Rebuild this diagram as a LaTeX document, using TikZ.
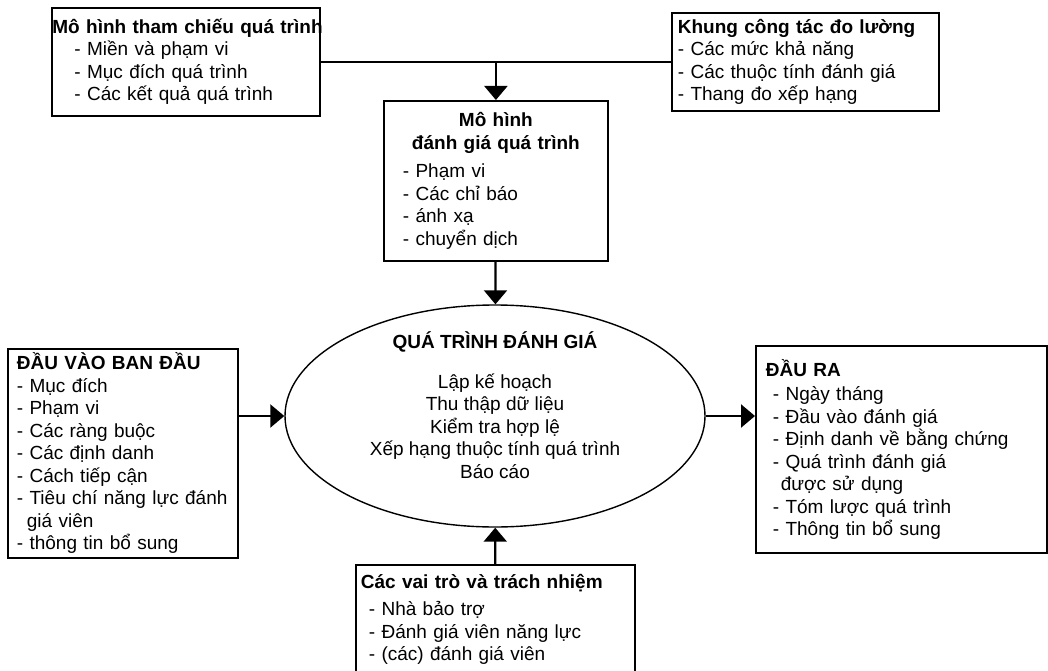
\documentclass[tikz,border=0pt]{standalone}
\usepackage{fontspec}
\setmainfont{Liberation Sans}
\usetikzlibrary{arrows.meta,shapes.geometric}

\tikzset{
  box/.style={draw, line width=1.8pt, anchor=north west, align=left, inner ysep=2pt},
  arr/.style={line width=2.2pt, -{Triangle[length=14pt,width=23pt]}},
}

\begin{document}
\begin{tikzpicture}[x=1pt, y=-1pt, font=\fontsize{19}{22.5}\selectfont]
\useasboundingbox (0,0) rectangle (1048,671);

% upper row
\node[box, inner xsep=0.5pt, text width=267pt, minimum height=108pt] (refmodel) at (51,7)
  {\mbox{\textbf{Mô hình tham chiếu quá trình}}\\
   \hspace*{22pt}- Miền và phạm vi\\
   \hspace*{22pt}- Mục đích quá trình\\
   \hspace*{22pt}- Các kết quả quá trình};
\node[box, inner xsep=6pt, text width=255pt, minimum height=98pt] (framework) at (671,12)
  {\textbf{Khung công tác đo lường}\\
   - Các mức khả năng\\
   - Các thuộc tính đánh giá\\
   - Thang đo xếp hạng};
\node[box, inner xsep=8pt, text width=208pt, minimum height=160pt] (asmodel) at (383,100)
  {\hfill\textbf{Mô hình}\hfill\null\\
   \hfill\textbf{đánh giá quá trình}\hfill\null\\[6pt]
   \hspace*{11pt}- Phạm vi\\
   \hspace*{11pt}- Các chỉ báo\\
   \hspace*{11pt}- ánh xạ\\
   \hspace*{11pt}- chuyển dịch};

% middle row
\node[draw, ellipse, line width=1.4pt, inner sep=0pt, minimum width=420pt, minimum height=222pt] (process) at (495,416) {};
\node[align=center, yshift=11pt] (steps) at (process.center)
  {\textbf{QUÁ TRÌNH ĐÁNH GIÁ}\\[17pt]
   Lập kế hoạch\\
   Thu thập dữ liệu\\
   Kiểm tra hợp lệ\\
   Xếp hạng thuộc tính quá trình\\
   Báo cáo};
\node[box, inner xsep=9pt, text width=212pt, minimum height=209pt] (inputs) at (7,348)
  {\textbf{ĐẦU VÀO BAN ĐẦU}\\
   - Mục đích\\
   - Phạm vi\\
   - Các ràng buộc\\
   - Các định danh\\
   - Cách tiếp cận\\
   - Tiêu chí năng lực đánh\\
   \hspace*{10pt}giá viên\\
   - thông tin bổ sung};
\node[box, inner xsep=10pt, text width=271pt, minimum height=207pt] (outputs) at (755,345)
  {\textbf{ĐẦU RA}\\[2pt]
   \hspace*{7pt}- Ngày tháng\\
   \hspace*{7pt}- Đầu vào đánh giá\\
   \hspace*{7pt}- Định danh về bằng chứng\\
   \hspace*{7pt}- Quá trình đánh giá\\
   \hspace*{15pt}được sử dụng\\
   \hspace*{7pt}- Tóm lược quá trình\\
   \hspace*{7pt}- Thông tin bổ sung};

% lower row
\node[box, inner xsep=5pt, text width=269pt, minimum height=109pt] (roles) at (355,564)
  {\textbf{Các vai trò và trách nhiệm}\\[5pt]
   \hspace*{8pt}- Nhà bảo trợ\\
   \hspace*{8pt}- Đánh giá viên năng lực\\
   \hspace*{8pt}- (các) đánh giá viên};

% connectors
\draw[line width=2.2pt] (refmodel.east) -- (framework.west);
\draw[arr] (refmodel.east -| asmodel.north) -- (asmodel.north);
\path[arr]
  (asmodel) edge (process)
  (inputs.east |- process.west) edge (process.west)
  (process.east) edge (outputs.west |- process.east)
  (roles) edge (process);
\end{tikzpicture}
\end{document}
